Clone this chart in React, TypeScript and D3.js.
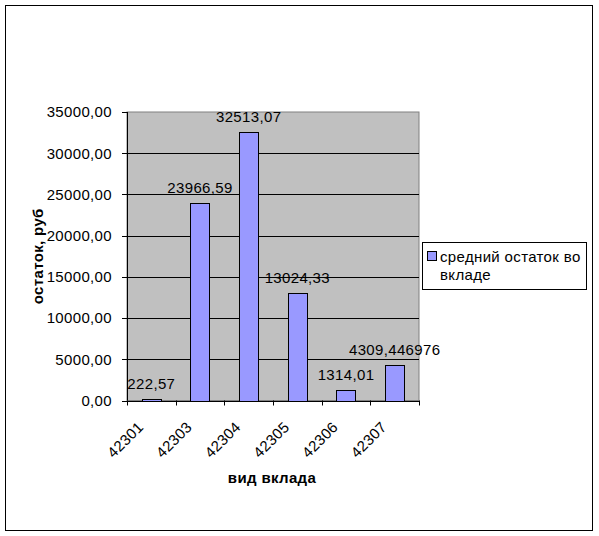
import React from "react";
import * as d3 from "d3";

const categories = ["42301", "42303", "42304", "42305", "42306", "42307"];
const values = [222.57, 23966.59, 32513.07, 13024.33, 1314.01, 4309.446976];
const valueLabels = ["222,57", "23966,59", "32513,07", "13024,33", "1314,01", "4309,446976"];
const yTicks = [0, 5000, 10000, 15000, 20000, 25000, 30000, 35000];
const seriesName = ["средний остаток во", "вкладе"];
const xTitle = "вид вклада";
const yTitle = "остаток, руб";

const W = 599;
const H = 536;
const plot = { left: 127, right: 419, top: 112, bottom: 400.5 };
const FONT = "'Liberation Sans', Arial, sans-serif";
const FS = 15;
const LS = 0.35;

export default function App() {
  const x = d3.scaleBand<string>().domain(categories).range([plot.left, plot.right]).paddingInner(0.6).paddingOuter(0.3);
  const band = d3.scaleBand<string>().domain(categories).range([plot.left, plot.right]);
  const y = d3.scaleLinear().domain([0, 35000]).range([plot.bottom, plot.top]);
  const fmt = (v: number) => d3.format(".2f")(v).replace(".", ",");
  const boundaries = [...categories.map((c) => band(c)!), plot.right];

  return (
    <svg width={W} height={H} style={{ position: "absolute", left: 0, top: 0, background: "#fff" }} fontFamily={FONT}>
      <rect x={5.5} y={5.5} width={587} height={525} fill="#fff" stroke="#000" strokeWidth={1} />
      {/* plot area */}
      <rect x={plot.left} y={plot.top} width={plot.right - plot.left} height={plot.bottom - plot.top} fill="#C0C0C0" stroke="#808080" strokeWidth={1} />
      {yTicks.filter((t) => t > 0 && t < 35000).map((t) => (
        <line key={"g" + t} x1={plot.left} x2={plot.right} y1={Math.round(y(t)) + 0.5} y2={Math.round(y(t)) + 0.5} stroke="#000" />
      ))}
      {/* bars */}
      {categories.map((c, i) => (
        <rect key={c} x={Math.round(x(c)!) + 0.5} y={Math.round(y(values[i])) + 0.5} width={Math.round(x.bandwidth())} height={Math.max(0, Math.round(y(0)) - Math.round(y(values[i])))} fill="#9999FF" stroke="#000" />
      ))}
      {/* axes */}
      <line x1={plot.left + 0.5} x2={plot.left + 0.5} y1={plot.top} y2={plot.bottom} stroke="#000" />
      <line x1={plot.left} x2={plot.right + 0.5} y1={Math.round(plot.bottom) + 0.5} y2={Math.round(plot.bottom) + 0.5} stroke="#000" />
      {yTicks.map((t) => (
        <g key={"t" + t}>
          <line x1={plot.left - 5} x2={plot.left} y1={Math.round(y(t)) + 0.5} y2={Math.round(y(t)) + 0.5} stroke="#000" />
          <text x={112} y={y(t)} dy="0.36em" textAnchor="end" fontSize={FS} letterSpacing={LS} fill="#000">{fmt(t)}</text>
        </g>
      ))}
      {boundaries.map((b, i) => (
        <line key={"xt" + i} x1={Math.round(b) + 0.5} x2={Math.round(b) + 0.5} y1={plot.bottom} y2={plot.bottom + 5} stroke="#000" />
      ))}
      {categories.map((c) => {
        const cx = band(c)! + band.bandwidth() / 2;
        return (
          <text key={"xl" + c} transform={`translate(${cx - 7},${428}) rotate(-45)`} textAnchor="end" fontSize={FS} letterSpacing={LS} fill="#000">{c}</text>
        );
      })}
      {/* value labels */}
      {categories.map((c, i) => (
        <text key={"v" + c} x={x(c)! + x.bandwidth() / 2} y={y(values[i]) - 10} textAnchor="middle" fontSize={FS} letterSpacing={LS} fill="#000">{valueLabels[i]}</text>
      ))}
      {/* titles */}
      <text x={272} y={483} textAnchor="middle" fontSize={FS} fontWeight="bold" letterSpacing={LS} fill="#000">{xTitle}</text>
      <text transform={`translate(43,${(plot.top + plot.bottom) / 2}) rotate(-90)`} textAnchor="middle" fontSize={FS} fontWeight="bold" letterSpacing={LS} fill="#000">{yTitle}</text>
      {/* legend */}
      <rect x={422.5} y={242.5} width={164} height={47} fill="#fff" stroke="#000" />
      <rect x={427.5} y={251.5} width={9} height={9} fill="#9999FF" stroke="#000" />
      <text x={440} y={262} fontSize={FS} letterSpacing={LS} fill="#000">{seriesName[0]}</text>
      <text x={440} y={280} fontSize={FS} letterSpacing={LS} fill="#000">{seriesName[1]}</text>
    </svg>
  );
}
